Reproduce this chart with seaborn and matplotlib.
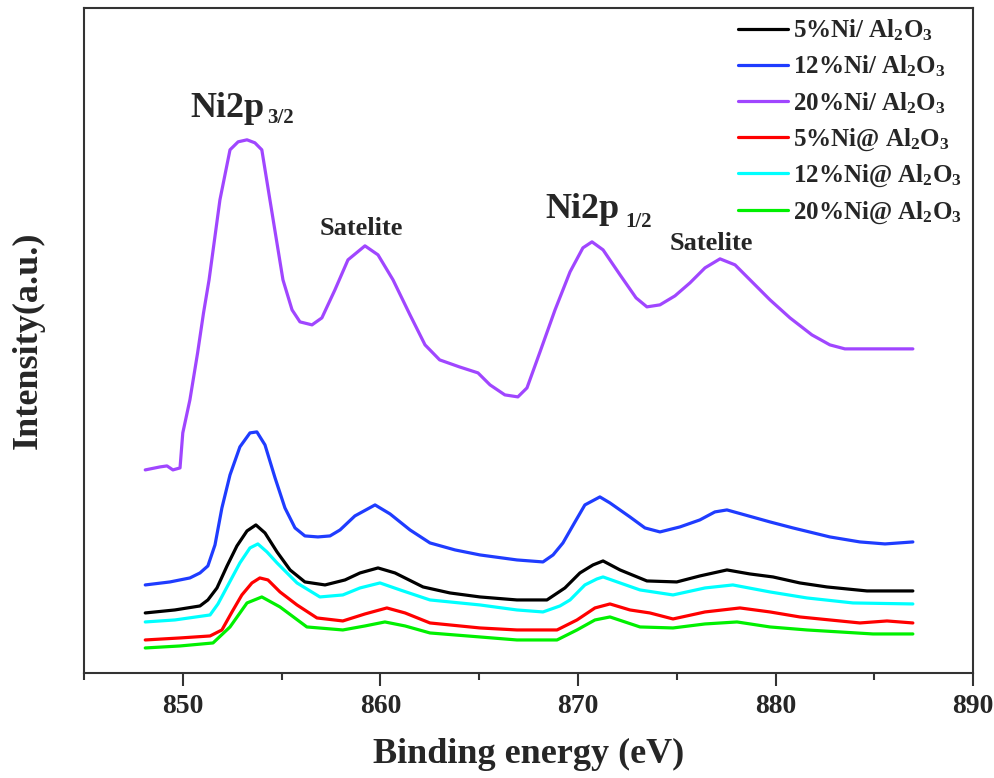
import numpy as np
import pandas as pd
import matplotlib
matplotlib.use("Agg")
import matplotlib.pyplot as plt
import seaborn as sns
from matplotlib.ticker import MultipleLocator

# Ni 2p XPS spectra (binding energy in eV, intensity in arbitrary units)
labels = ["5%Ni/ Al$_2$O$_3$", "12%Ni/ Al$_2$O$_3$", "20%Ni/ Al$_2$O$_3$",
          "5%Ni@ Al$_2$O$_3$", "12%Ni@ Al$_2$O$_3$", "20%Ni@ Al$_2$O$_3$"]
colors = ["#000000", "#1f3cff", "#a046ff", "#ff0000", "#00ffff", "#00f000"]

e_ni5_imp = [848.1, 849.6, 850.87, 851.27, 851.73, 852.24, 852.74, 853.25, 853.7, 854.16,
             854.77, 855.43, 856.18, 857.2, 858.21, 858.97, 859.88, 860.74, 862.16, 863.52,
             865.04, 866.91, 868.43, 869.34, 870.1, 870.76, 871.27, 872.13, 873.49, 875.0,
             876.17, 877.54, 878.7, 879.87, 881.23, 882.6, 884.63, 886.95]
i_ni5_imp = [60, 63, 67, 73, 85, 107, 127, 142, 148, 140,
             121, 103, 91, 88, 93, 100, 105, 100, 86, 80,
             76, 73, 73, 85, 100, 108, 112, 103, 92, 91,
             97, 103, 99, 96, 90, 86, 82, 82]

e_ni12_imp = [848.1, 849.35, 850.36, 850.87, 851.27, 851.63, 851.98, 852.39, 852.89, 853.4,
              853.75, 854.16, 854.67, 855.17, 855.68, 856.18, 856.84, 857.45, 857.96, 858.71,
              859.73, 860.49, 861.5, 862.51, 863.78, 865.04, 866.91, 868.23, 868.74, 869.24,
              869.85, 870.35, 871.11, 871.62, 872.63, 873.39, 874.15, 875.16, 876.17, 876.93,
              877.54, 878.45, 879.72, 880.88, 882.75, 884.27, 885.54, 886.95]
i_ni12_imp = [88, 91, 95, 100, 107, 128, 165, 198, 226, 240,
              241, 228, 195, 165, 145, 137, 136, 137, 143, 157,
              168, 159, 143, 130, 123, 118, 113, 111, 118, 130,
              151, 168, 176, 170, 156, 145, 141, 146, 153, 161,
              163, 158, 151, 145, 136, 131, 129, 131]

e_ni20_imp = [848.1, 848.85, 849.2, 849.5, 849.86, 850.0, 850.36, 850.75, 851.05, 851.33,
              851.88, 852.39, 852.8, 853.25, 853.65, 854.0, 854.41, 855.07, 855.53, 855.93,
              856.54, 857.04, 857.7, 858.36, 859.22, 859.88, 860.64, 861.5, 862.26, 863.0,
              864.0, 864.94, 865.55, 866.3, 866.96, 867.42, 868.08, 868.84, 869.6, 870.25,
              870.71, 871.27, 872.13, 872.94, 873.49, 874.15, 874.91, 875.67, 876.43, 877.19,
              877.95, 878.81, 879.72, 880.73, 881.84, 882.75, 883.51, 886.95]
i_ni20_imp = [203, 206, 207, 203, 205, 240, 273, 320, 360, 393,
              473, 523, 531, 533, 530, 523, 473, 393, 363, 351,
              348, 355, 383, 413, 427, 418, 393, 358, 328, 313,
              306, 300, 288, 278, 276, 285, 321, 363, 401, 425,
              431, 423, 398, 375, 366, 368, 377, 390, 405, 414,
              408, 391, 373, 355, 338, 328, 324, 324]

e_ni5_core = [848.1, 849.86, 851.38, 851.98, 852.49, 852.99, 853.5, 853.9, 854.31, 854.92,
              855.78, 856.79, 858.1, 859.22, 860.33, 861.25, 862.51, 865.04, 866.91, 868.94,
              869.95, 870.86, 871.62, 872.63, 873.64, 874.81, 876.43, 878.2, 879.72, 881.23,
              882.75, 884.27, 885.64, 886.95]
i_ni5_core = [33, 35, 37, 43, 61, 78, 90, 95, 93, 81,
              68, 55, 52, 59, 65, 60, 50, 45, 43, 43,
              53, 65, 69, 63, 60, 54, 61, 65, 61, 56,
              53, 50, 52, 50]

e_ni12_core = [848.1, 849.6, 851.38, 851.78, 852.24, 852.89, 853.4, 853.8, 854.26, 854.77,
               855.78, 856.94, 858.1, 858.97, 859.98, 861.0, 862.51, 865.04, 866.91, 868.23,
               869.09, 869.6, 870.35, 870.96, 871.27, 872.13, 873.14, 874.81, 876.43, 877.84,
               879.72, 881.59, 883.92, 886.95]
i_ni12_core = [51, 53, 58, 69, 86, 110, 125, 129, 121, 110,
               90, 76, 78, 85, 90, 83, 73, 68, 63, 61,
               67, 73, 88, 94, 96, 90, 83, 78, 85, 88,
               81, 75, 70, 69]

e_ni20_core = [848.1, 849.86, 851.53, 852.39, 853.25, 854.0, 854.92, 856.28, 858.1, 859.22,
               860.23, 861.25, 862.51, 865.04, 866.91, 868.94, 869.95, 870.86, 871.62, 873.14,
               874.81, 876.43, 878.05, 879.72, 881.59, 884.93, 886.95]
i_ni20_core = [25, 27, 30, 46, 70, 76, 66, 46, 43, 47,
               51, 47, 40, 36, 33, 33, 43, 53, 56, 46,
               45, 49, 51, 46, 43, 39, 39]

energies = [e_ni5_imp, e_ni12_imp, e_ni20_imp, e_ni5_core, e_ni12_core, e_ni20_core]
intensities = [i_ni5_imp, i_ni12_imp, i_ni20_imp, i_ni5_core, i_ni12_core, i_ni20_core]

x_ticks = [850, 860, 870, 880, 890]

frames = []
for lab, e, i in zip(labels, energies, intensities):
    frames.append(pd.DataFrame({"energy": e, "intensity": i, "sample": lab}))
df = pd.concat(frames, ignore_index=True)

sns.set_theme(style="white")
plt.rcParams["font.family"] = ["Liberation Serif", "DejaVu Serif"]
plt.rcParams["mathtext.fontset"] = "custom"
plt.rcParams["mathtext.rm"] = "Liberation Serif:bold"
plt.rcParams["mathtext.it"] = "Liberation Serif:bold"
plt.rcParams["mathtext.bf"] = "Liberation Serif:bold"
plt.rcParams["mathtext.default"] = "rm"

fig = plt.figure(figsize=(9.94, 7.78), dpi=100)
ax = fig.add_axes([0.0845, 0.135, 0.8945, 0.855])

palette = dict(zip(labels, colors))
sns.lineplot(data=df, x="energy", y="intensity", hue="sample", hue_order=labels,
             palette=palette, estimator=None, linewidth=2.3, ax=ax, legend=False)

ax.set_xlim(845, 890)
ax.set_ylim(0, 665)
ax.set_xticks(x_ticks)
ax.set_xticklabels([str(t) for t in x_ticks], fontweight="bold")
ax.xaxis.set_minor_locator(MultipleLocator(5))
ax.set_yticks([])
ax.tick_params(axis="x", which="major", direction="out", length=9, width=1.5,
               labelsize=20, color="#333333", pad=6, bottom=True)
ax.tick_params(axis="x", which="minor", direction="out", length=5, width=1.5,
               color="#333333", bottom=True)
for sp in ax.spines.values():
    sp.set_color("#333333")
    sp.set_linewidth(1.5)

ax.set_xlabel("Binding energy (eV)", fontsize=26, fontweight="bold", labelpad=14)
ax.set_ylabel("Intensity(a.u.)", fontsize=26, fontweight="bold", labelpad=28)

# Peak annotations
ax.text(850.36, 556, "Ni2p", fontsize=26, fontweight="bold", ha="left", va="baseline")
ax.text(854.26, 550, "3/2", fontsize=15, fontweight="bold", ha="left", va="baseline")
ax.text(856.94, 438, "Satelite", fontsize=19, fontweight="bold", ha="left", va="baseline")
ax.text(868.33, 455, "Ni2p", fontsize=26, fontweight="bold", ha="left", va="baseline")
ax.text(872.38, 446, "1/2", fontsize=15, fontweight="bold", ha="left", va="baseline")
ax.text(874.66, 423, "Satelite", fontsize=19, fontweight="bold", ha="left", va="baseline")

handles = [plt.Line2D([], [], color=c, linewidth=2.3) for c in colors]
leg = ax.legend(handles, labels, loc="upper right", bbox_to_anchor=(0.998, 1.0),
                frameon=False, handlelength=2.0, handletextpad=0.2,
                labelspacing=0.42, borderaxespad=0.0,
                prop={"family": "Liberation Serif", "weight": "bold", "size": 18})

fig.savefig("out.png", dpi=100)
